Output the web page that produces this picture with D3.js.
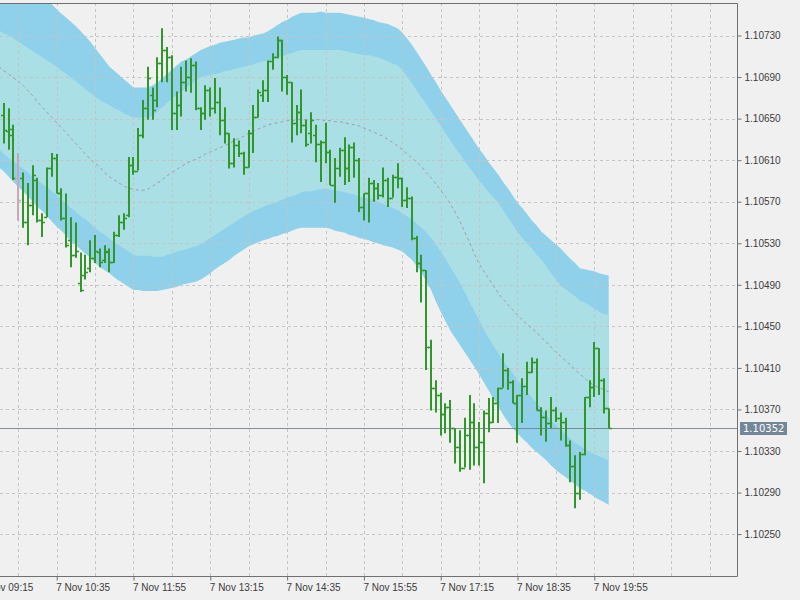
<!DOCTYPE html>
<html>
<head>
<meta charset="utf-8">
<script src="https://cdn.jsdelivr.net/npm/d3@7"></script>
<style>
  html, body { margin: 0; padding: 0; background: #f0f0f0; }
  svg { display: block; font-family: "DejaVu Sans", sans-serif; }
</style>
</head>
<body>
<svg id="chart" width="800" height="600"></svg>
<script>
// 5 minute bars, 7 Nov, first bar 09:40
const firstBar = '2019-11-07 09:40';
const firstBand = '2019-11-07 09:35';
const barMinutes = 5;

const openP = [1.10653,1.10638,1.10640,1.10593,1.10593,1.10550,1.10567,1.10591,1.10552,1.10555,
1.10602,1.10612,1.10578,1.10554,1.10533,1.10519,1.10492,1.10499,1.10506,1.10516,
1.10522,1.10514,1.10522,1.10512,1.10538,1.10550,1.10557,1.10605,1.10600,1.10634,
1.10660,1.10673,1.10668,1.10704,1.10716,1.10709,1.10655,1.10663,1.10685,1.10690,
1.10702,1.10660,1.10655,1.10678,1.10660,1.10666,1.10649,1.10636,1.10607,1.10625,
1.10617,1.10603,1.10636,1.10652,1.10673,1.10678,1.10705,1.10709,1.10726,1.10690,
1.10685,1.10646,1.10656,1.10644,1.10636,1.10634,1.10626,1.10627,1.10618,1.10586,
1.10602,1.10620,1.10602,1.10623,1.10610,1.10565,1.10578,1.10588,1.10583,1.10576,
1.10591,1.10574,1.10594,1.10593,1.10572,1.10574,1.10535,1.10511,1.10504,1.10430,
1.10391,1.10384,1.10366,1.10372,1.10352,1.10334,1.10314,1.10345,1.10358,1.10334,
1.10339,1.10367,1.10358,1.10376,1.10391,1.10408,1.10396,1.10376,1.10384,1.10393,
1.10406,1.10416,1.10369,1.10363,1.10357,1.10369,1.10362,1.10358,1.10336,1.10316,
1.10290,1.10327,1.10382,1.10392,1.10429,1.10398,1.10371];

const highP = [1.10665,1.10660,1.10644,1.10617,1.10598,1.10588,1.10605,1.10593,1.10559,1.10603,
1.10617,1.10616,1.10583,1.10578,1.10555,1.10550,1.10521,1.10519,1.10533,1.10538,
1.10525,1.10528,1.10525,1.10541,1.10557,1.10559,1.10613,1.10613,1.10641,1.10668,
1.10700,1.10680,1.10709,1.10737,1.10719,1.10711,1.10676,1.10700,1.10706,1.10708,
1.10705,1.10661,1.10682,1.10680,1.10689,1.10680,1.10661,1.10636,1.10631,1.10629,
1.10618,1.10639,1.10663,1.10678,1.10687,1.10706,1.10713,1.10729,1.10726,1.10692,
1.10685,1.10663,1.10678,1.10649,1.10656,1.10644,1.10629,1.10646,1.10620,1.10612,
1.10622,1.10632,1.10625,1.10627,1.10612,1.10578,1.10593,1.10591,1.10588,1.10603,
1.10593,1.10596,1.10607,1.10593,1.10584,1.10575,1.10537,1.10519,1.10504,1.10437,
1.10398,1.10386,1.10376,1.10379,1.10352,1.10350,1.10362,1.10384,1.10376,1.10358,
1.10369,1.10381,1.10382,1.10391,1.10424,1.10410,1.10398,1.10384,1.10400,1.10416,
1.10420,1.10419,1.10372,1.10369,1.10382,1.10372,1.10367,1.10362,1.10340,1.10326,
1.10329,1.10382,1.10398,1.10435,1.10429,1.10400,1.10371];

const lowP = [1.10626,1.10620,1.10591,1.10552,1.10545,1.10528,1.10557,1.10550,1.10536,1.10555,
1.10594,1.10578,1.10552,1.10526,1.10507,1.10516,1.10483,1.10495,1.10502,1.10511,
1.10507,1.10511,1.10502,1.10511,1.10536,1.10543,1.10555,1.10596,1.10600,1.10631,
1.10649,1.10649,1.10661,1.10685,1.10685,1.10639,1.10639,1.10652,1.10676,1.10675,
1.10658,1.10639,1.10649,1.10652,1.10655,1.10634,1.10626,1.10602,1.10603,1.10613,
1.10596,1.10603,1.10617,1.10651,1.10666,1.10666,1.10697,1.10708,1.10676,1.10673,
1.10627,1.10634,1.10636,1.10623,1.10626,1.10608,1.10589,1.10607,1.10586,1.10569,
1.10594,1.10586,1.10589,1.10593,1.10560,1.10552,1.10550,1.10570,1.10572,1.10574,
1.10565,1.10574,1.10583,1.10565,1.10564,1.10533,1.10502,1.10473,1.10408,1.10369,
1.10367,1.10345,1.10347,1.10338,1.10318,1.10310,1.10314,1.10312,1.10316,1.10316,
1.10299,1.10348,1.10357,1.10357,1.10391,1.10389,1.10376,1.10338,1.10357,1.10384,
1.10405,1.10369,1.10345,1.10339,1.10352,1.10358,1.10340,1.10334,1.10300,1.10275,
1.10283,1.10326,1.10372,1.10382,1.10384,1.10366,1.10352];

const closeP = [1.10639,1.10634,1.10593,1.10572,1.10550,1.10567,1.10596,1.10552,1.10550,1.10602,
1.10612,1.10578,1.10554,1.10528,1.10519,1.10523,1.10485,1.10502,1.10516,1.10523,
1.10512,1.10523,1.10512,1.10538,1.10550,1.10554,1.10605,1.10600,1.10634,1.10660,
1.10689,1.10658,1.10704,1.10716,1.10709,1.10655,1.10663,1.10685,1.10690,1.10702,
1.10660,1.10655,1.10678,1.10660,1.10666,1.10649,1.10636,1.10607,1.10625,1.10617,
1.10603,1.10636,1.10652,1.10676,1.10678,1.10705,1.10709,1.10726,1.10690,1.10685,
1.10646,1.10656,1.10644,1.10626,1.10649,1.10626,1.10627,1.10618,1.10586,1.10602,
1.10620,1.10602,1.10623,1.10610,1.10565,1.10578,1.10588,1.10583,1.10576,1.10591,
1.10574,1.10594,1.10593,1.10572,1.10574,1.10535,1.10511,1.10504,1.10430,1.10391,
1.10384,1.10366,1.10372,1.10352,1.10334,1.10314,1.10345,1.10358,1.10334,1.10339,
1.10367,1.10358,1.10376,1.10391,1.10408,1.10396,1.10376,1.10384,1.10393,1.10406,
1.10416,1.10369,1.10363,1.10357,1.10369,1.10362,1.10358,1.10336,1.10316,1.10290,
1.10327,1.10382,1.10392,1.10429,1.10398,1.10371,1.10352];

// band indicator, one value per bar starting 09:35
const bandMid = [1.10700,1.10696,1.10693,1.10689,1.10686,1.10682,1.10677,1.10672,1.10666,1.10661,
1.10656,1.10651,1.10646,1.10641,1.10636,1.10631,1.10626,1.10621,1.10616,1.10611,
1.10607,1.10603,1.10598,1.10594,1.10591,1.10588,1.10585,1.10583,1.10582,1.10581,
1.10581,1.10582,1.10585,1.10588,1.10591,1.10595,1.10598,1.10601,1.10604,1.10607,
1.10609,1.10611,1.10613,1.10616,1.10618,1.10620,1.10622,1.10624,1.10626,1.10629,
1.10631,1.10633,1.10636,1.10638,1.10640,1.10642,1.10644,1.10645,1.10646,1.10647,
1.10648,1.10648,1.10649,1.10649,1.10649,1.10649,1.10649,1.10649,1.10648,1.10648,
1.10647,1.10647,1.10646,1.10645,1.10644,1.10643,1.10641,1.10639,1.10637,1.10635,
1.10633,1.10630,1.10627,1.10624,1.10620,1.10616,1.10612,1.10608,1.10604,1.10598,
1.10593,1.10587,1.10581,1.10575,1.10568,1.10560,1.10551,1.10541,1.10531,1.10520,
1.10510,1.10503,1.10496,1.10489,1.10482,1.10476,1.10471,1.10466,1.10461,1.10456,
1.10452,1.10448,1.10444,1.10439,1.10435,1.10430,1.10425,1.10421,1.10417,1.10413,
1.10408,1.10404,1.10400,1.10396,1.10393,1.10391,1.10389,1.10387];

const bandUpperOuter = [1.10806,1.10801,1.10797,1.10793,1.10789,1.10785,1.10780,1.10776,1.10772,1.10768,
1.10764,1.10760,1.10755,1.10751,1.10747,1.10743,1.10739,1.10734,1.10729,1.10724,
1.10718,1.10712,1.10706,1.10700,1.10696,1.10692,1.10688,1.10684,1.10680,1.10680,
1.10680,1.10680,1.10682,1.10685,1.10689,1.10693,1.10697,1.10701,1.10705,1.10707,
1.10710,1.10713,1.10716,1.10718,1.10720,1.10721,1.10723,1.10724,1.10725,1.10726,
1.10727,1.10728,1.10728,1.10730,1.10731,1.10732,1.10734,1.10737,1.10740,1.10743,
1.10745,1.10748,1.10750,1.10752,1.10752,1.10752,1.10752,1.10753,1.10752,1.10752,
1.10752,1.10752,1.10751,1.10750,1.10749,1.10748,1.10747,1.10746,1.10745,1.10743,
1.10742,1.10741,1.10739,1.10737,1.10733,1.10727,1.10721,1.10714,1.10707,1.10700,
1.10692,1.10685,1.10677,1.10670,1.10663,1.10656,1.10649,1.10642,1.10635,1.10628,
1.10621,1.10615,1.10608,1.10602,1.10596,1.10589,1.10583,1.10576,1.10569,1.10564,
1.10558,1.10552,1.10547,1.10541,1.10537,1.10533,1.10529,1.10525,1.10520,1.10515,
1.10511,1.10506,1.10505,1.10504,1.10503,1.10501,1.10500,1.10499];

const bandUpperInner = [1.10735,1.10732,1.10730,1.10727,1.10724,1.10721,1.10718,1.10715,1.10712,1.10709,
1.10706,1.10703,1.10700,1.10696,1.10693,1.10689,1.10686,1.10682,1.10678,1.10675,
1.10671,1.10668,1.10665,1.10663,1.10660,1.10658,1.10655,1.10653,1.10651,1.10651,
1.10651,1.10651,1.10653,1.10657,1.10661,1.10665,1.10669,1.10673,1.10676,1.10680,
1.10683,1.10687,1.10690,1.10691,1.10692,1.10693,1.10694,1.10696,1.10696,1.10698,
1.10699,1.10700,1.10701,1.10702,1.10704,1.10705,1.10706,1.10707,1.10709,1.10710,
1.10712,1.10713,1.10715,1.10716,1.10716,1.10716,1.10716,1.10716,1.10716,1.10716,
1.10716,1.10716,1.10715,1.10714,1.10713,1.10712,1.10711,1.10711,1.10710,1.10709,
1.10707,1.10705,1.10703,1.10701,1.10697,1.10690,1.10684,1.10677,1.10670,1.10664,
1.10657,1.10650,1.10643,1.10636,1.10629,1.10622,1.10616,1.10609,1.10603,1.10597,
1.10590,1.10585,1.10579,1.10574,1.10569,1.10562,1.10555,1.10548,1.10541,1.10535,
1.10530,1.10525,1.10519,1.10514,1.10508,1.10501,1.10495,1.10489,1.10486,1.10482,
1.10479,1.10475,1.10473,1.10470,1.10467,1.10464,1.10462,1.10461];

const bandLowerInner = [1.10620,1.10616,1.10612,1.10609,1.10605,1.10602,1.10598,1.10594,1.10591,1.10587,
1.10584,1.10580,1.10576,1.10572,1.10568,1.10564,1.10560,1.10556,1.10553,1.10549,
1.10545,1.10541,1.10538,1.10534,1.10531,1.10528,1.10525,1.10522,1.10519,1.10518,
1.10518,1.10518,1.10517,1.10517,1.10517,1.10519,1.10520,1.10522,1.10523,1.10524,
1.10526,1.10527,1.10529,1.10532,1.10535,1.10538,1.10541,1.10544,1.10547,1.10550,
1.10553,1.10556,1.10559,1.10561,1.10563,1.10565,1.10567,1.10568,1.10570,1.10572,
1.10574,1.10575,1.10577,1.10579,1.10580,1.10580,1.10581,1.10582,1.10583,1.10582,
1.10581,1.10580,1.10579,1.10578,1.10577,1.10575,1.10574,1.10573,1.10572,1.10570,
1.10568,1.10566,1.10564,1.10562,1.10559,1.10556,1.10553,1.10549,1.10545,1.10540,
1.10535,1.10529,1.10522,1.10515,1.10507,1.10500,1.10492,1.10483,1.10473,1.10465,
1.10456,1.10447,1.10439,1.10431,1.10424,1.10417,1.10411,1.10405,1.10398,1.10393,
1.10387,1.10382,1.10376,1.10371,1.10365,1.10360,1.10355,1.10350,1.10346,1.10342,
1.10338,1.10335,1.10332,1.10329,1.10327,1.10325,1.10323,1.10321];

const bandLowerOuter = [1.10603,1.10599,1.10594,1.10589,1.10584,1.10580,1.10575,1.10570,1.10565,1.10561,
1.10556,1.10551,1.10546,1.10542,1.10537,1.10532,1.10528,1.10524,1.10520,1.10516,
1.10511,1.10507,1.10504,1.10501,1.10497,1.10494,1.10491,1.10488,1.10485,1.10485,
1.10484,1.10484,1.10484,1.10484,1.10485,1.10486,1.10487,1.10488,1.10490,1.10491,
1.10492,1.10493,1.10495,1.10498,1.10501,1.10505,1.10508,1.10511,1.10514,1.10518,
1.10521,1.10524,1.10527,1.10529,1.10531,1.10533,1.10534,1.10536,1.10537,1.10539,
1.10540,1.10542,1.10544,1.10545,1.10545,1.10545,1.10545,1.10545,1.10545,1.10544,
1.10542,1.10541,1.10540,1.10538,1.10537,1.10535,1.10534,1.10533,1.10531,1.10530,
1.10528,1.10527,1.10526,1.10524,1.10522,1.10518,1.10514,1.10508,1.10502,1.10493,
1.10485,1.10474,1.10464,1.10455,1.10446,1.10439,1.10432,1.10425,1.10418,1.10411,
1.10404,1.10396,1.10388,1.10380,1.10373,1.10365,1.10358,1.10352,1.10347,1.10342,
1.10338,1.10333,1.10329,1.10325,1.10321,1.10316,1.10312,1.10308,1.10305,1.10301,
1.10298,1.10294,1.10292,1.10289,1.10286,1.10283,1.10281,1.10278];

const priceTicks = [1.10250,1.10290,1.10330,1.10370,1.10410,1.10450,1.10490,
  1.10530,1.10570,1.10610,1.10650,1.10690,1.10730];
const timeTicks = ['09:15','10:35','11:55','13:15','14:35','15:55','17:15','18:35','19:55'];
const lastPrice = 1.10352;

const W = 800, H = 600;
const plot = { left: 0, top: 3, right: 737, bottom: 576 };

const parse = d3.timeParse('%Y-%m-%d %H:%M');
const t0 = parse(firstBar);
const barTime = i => d3.timeMinute.offset(t0, i * barMinutes);
const bandT0 = parse(firstBand);
const bandTime = i => d3.timeMinute.offset(bandT0, i * barMinutes);

const x = d3.scaleTime()
  .domain([t0, barTime(openP.length - 1)])
  .range([3.9, 3.9 + 4.8 * (openP.length - 1)]);

const y = d3.scaleLinear()
  .domain([1.10250, 1.10730])
  .range([534.1, 35.5]);

const svg = d3.select('#chart');
svg.append('rect').attr('width', W).attr('height', H).attr('fill', '#f0f0f0');

svg.append('defs').append('clipPath').attr('id', 'plotClip')
  .append('rect')
  .attr('x', plot.left).attr('y', plot.top)
  .attr('width', plot.right - plot.left).attr('height', plot.bottom - plot.top);

const g = svg.append('g').attr('clip-path', 'url(#plotClip)');

// bands
const bandIdx = d3.range(bandMid.length);
const outerArea = d3.area()
  .x(i => x(bandTime(i)))
  .y0(i => y(bandLowerOuter[i]))
  .y1(i => y(bandUpperOuter[i]));
const innerArea = d3.area()
  .x(i => x(bandTime(i)))
  .y0(i => y(bandLowerInner[i]))
  .y1(i => y(bandUpperInner[i]));

g.append('path').datum(bandIdx).attr('d', outerArea).attr('fill', '#8fd1ea');
g.append('path').datum(bandIdx).attr('d', innerArea).attr('fill', '#aadfe6');

// grid
g.append('g').selectAll('line').data(priceTicks).enter().append('line')
  .attr('x1', plot.left).attr('x2', plot.right)
  .attr('y1', d => Math.round(y(d)) + 0.5).attr('y2', d => Math.round(y(d)) + 0.5)
  .attr('stroke', '#c4c4c4').attr('stroke-dasharray', '3,3');

const gridTimes = [];
for (let t = d3.timeMinute.offset(t0, 15); x(t) < plot.right; t = d3.timeMinute.offset(t, 40)) gridTimes.push(t);
g.append('g').selectAll('line').data(gridTimes).enter().append('line')
  .attr('x1', d => Math.round(x(d)) + 0.5).attr('x2', d => Math.round(x(d)) + 0.5)
  .attr('y1', plot.top).attr('y2', plot.bottom)
  .attr('stroke', '#c4c4c4').attr('stroke-dasharray', '3,3');

// middle line
const midLine = d3.line()
  .x(i => x(bandTime(i)))
  .y(i => y(bandMid[i]));
g.append('path').datum(bandIdx).attr('d', midLine)
  .attr('fill', 'none').attr('stroke', '#a19ca8').attr('stroke-dasharray', '3,3');

// current price line
g.append('line')
  .attr('x1', plot.left).attr('x2', plot.right)
  .attr('y1', Math.round(y(lastPrice)) + 0.5).attr('y2', Math.round(y(lastPrice)) + 0.5)
  .attr('stroke', '#6f8088').attr('stroke-opacity', 0.85);

// OHLC bars
const bars = g.append('g');
openP.forEach((o, i) => {
  const bx = Math.round(x(barTime(i)));
  const col = i === 3 ? '#c9a6b8' : '#31962c';
  bars.append('line')
    .attr('x1', bx).attr('x2', bx)
    .attr('y1', y(highP[i])).attr('y2', y(lowP[i]))
    .attr('stroke', col).attr('stroke-width', 2);
  bars.append('line')
    .attr('x1', bx - 3).attr('x2', bx)
    .attr('y1', Math.round(y(o)) + 0.5).attr('y2', Math.round(y(o)) + 0.5)
    .attr('stroke', col).attr('stroke-width', 1.5);
  bars.append('line')
    .attr('x1', bx).attr('x2', bx + 3)
    .attr('y1', Math.round(y(closeP[i])) + 0.5).attr('y2', Math.round(y(closeP[i])) + 0.5)
    .attr('stroke', col).attr('stroke-width', 1.5);
});

// frame
svg.append('path')
  .attr('d', `M0,${plot.top + 0.5}H${plot.right + 0.5}V${plot.bottom + 0.5}H0`)
  .attr('fill', 'none').attr('stroke', '#707070');

// price axis
const yAxis = svg.append('g')
  .attr('transform', `translate(${plot.right + 0.5},0)`)
  .call(d3.axisRight(y).tickValues(priceTicks).tickSize(4).tickPadding(3)
    .tickFormat(d3.format('.5f')));
yAxis.select('.domain').remove();
yAxis.selectAll('line').attr('stroke', '#707070');
yAxis.selectAll('text').attr('fill', '#3c3c3c').style('font-size', '10px');

// time axis
const timeTickDates = timeTicks.map(s => parse('2019-11-07 ' + s));
const xAxis = svg.append('g')
  .attr('transform', `translate(0,${plot.bottom + 0.5})`)
  .call(d3.axisBottom(x).tickValues(timeTickDates).tickSize(4).tickPadding(3)
    .tickFormat(d3.timeFormat('%-d %b %H:%M')));
xAxis.select('.domain').remove();
xAxis.selectAll('line').attr('stroke', '#707070');
xAxis.selectAll('text').attr('fill', '#3c3c3c').style('font-size', '10px')
  .attr('text-anchor', 'start').attr('x', -1);

// last price label
const ly = Math.round(y(lastPrice));
svg.append('rect')
  .attr('x', 740).attr('y', ly - 6).attr('width', 47).attr('height', 13)
  .attr('fill', '#74879a');
svg.append('text')
  .attr('x', 743).attr('y', ly + 4)
  .attr('fill', '#ffffff').style('font-size', '10px')
  .text(d3.format('.5f')(lastPrice));
</script>
</body>
</html>
